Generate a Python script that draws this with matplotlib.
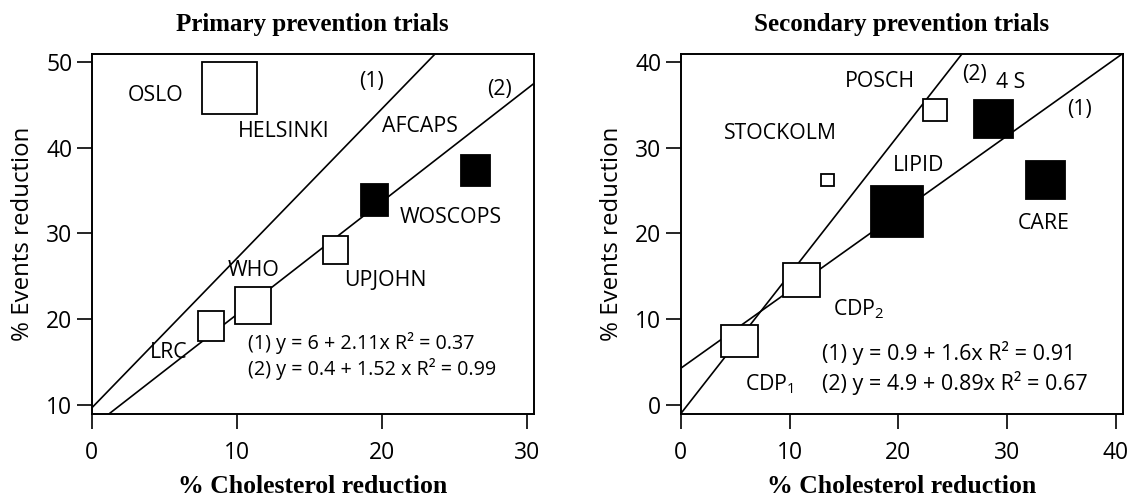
#import libraries
import matplotlib.pyplot as plt
from matplotlib.patches import Rectangle

plt.rcParams['font.family'] = ['Open Sans', 'DejaVu Sans']
plt.rcParams['mathtext.fontset'] = 'custom'
plt.rcParams['mathtext.rm'] = 'Open Sans'

#data
#----------------------------------------
#primary prevention trials
prim_chol = [9.5, 19.5, 26.45, 16.8, 11.1, 8.2]
prim_events = [47.0, 33.9, 37.4, 28.05, 21.6, 19.15]
prim_filled = [False, True, True, False, False, False]
prim_box_w = [55, 27, 29, 25, 36, 26]   #box size in pixels
prim_box_h = [52, 32, 31, 28, 37, 30]
prim_fit_a = [9.65, 7.39]
prim_fit_b = [1.745, 1.316]
prim_eqs = ['(1) y = 6 + 2.11x R\u00b2 = 0.37', '(2) y = 0.4 + 1.52 x R\u00b2 = 0.99']

#secondary prevention trials
sec_chol = [23.4, 28.8, 13.5, 19.9, 33.5, 11.1, 5.4]
sec_events = [34.4, 33.4, 26.25, 22.6, 26.2, 14.6, 7.4]
sec_filled = [False, True, False, True, True, False, False]
sec_box_w = [24, 39, 13.5, 52, 39, 37, 37]
sec_box_h = [22, 38, 12, 51, 38, 34, 32]
sec_fit_a = [4.25, -1.05]
sec_fit_b = [0.904, 1.624]
sec_eqs = ['(1) y = 0.9 + 1.6x R\u00b2 = 0.91', '(2) y = 4.9 + 0.89x R\u00b2 = 0.67']

#label text and where it sits (left edge, middle)
prim_labels = [('OSLO', 2.5, 46.1), ('HELSINKI', 10.1, 41.9), ('(1)', 18.4, 47.7),
               ('(2)', 27.25, 46.75), ('AFCAPS', 20.0, 42.5), ('WOSCOPS', 21.2, 31.9),
               ('WHO', 9.4, 25.7), ('UPJOHN', 17.4, 24.5), ('LRC', 4.0, 16.1)]
sec_labels = [('POSCH', 15.1, 37.7), ('(2)', 25.9, 38.5), ('4 S', 29.0, 37.6),
              ('(1)', 35.5, 34.4), ('STOCKOLM', 4.0, 31.7), ('LIPID', 19.5, 27.9),
              ('CARE', 31.0, 21.2), ('CDP$_\\mathregular{2}$', 14.0, 11.2),
              ('CDP$_\\mathregular{1}$', 5.95, 2.45)]

DPI = 100
fig = plt.figure(figsize=(11.31, 4.98), dpi=DPI)
ax1 = fig.add_axes([0.0811, 0.1693, 0.3908, 0.7217])
ax2 = fig.add_axes([0.6019, 0.1693, 0.3908, 0.7217])

serif = 'Liberation Serif'


def draw_panel(ax, chol, events, filled, bw, bh, fa, fb, eqs, eq_x, eq_y, eq_size,
               labels, xlim, ylim, xticks, yticks, title):
    ax.set_xlim(xlim)
    ax.set_ylim(ylim)
    pos = ax.get_position()
    ax_w = pos.width * fig.get_figwidth() * DPI
    ax_h = pos.height * fig.get_figheight() * DPI
    sx = (xlim[1] - xlim[0]) / ax_w
    sy = (ylim[1] - ylim[0]) / ax_h

    #fit lines
    for a, b in zip(fa, fb):
        ax.axline((0, a), slope=b, color='black', lw=1.2, zorder=1)

    #trial boxes
    for x, y, f, w, h in zip(chol, events, filled, bw, bh):
        wd, hd = w * sx, h * sy
        ax.add_patch(Rectangle((x - wd / 2, y - hd / 2), wd, hd,
                               facecolor='black' if f else 'white',
                               edgecolor='black', lw=1.3, zorder=3))

    for txt, x, y in labels:
        ax.text(x, y, txt, fontsize=15.3, ha='left', va='center', zorder=4)
    for i, e in enumerate(eqs):
        ax.text(eq_x, eq_y[i], e, fontsize=eq_size, ha='left', va='center', zorder=4)

    ax.set_xticks(xticks)
    ax.set_yticks(yticks)
    ax.tick_params(direction='out', length=11, width=1.2, labelsize=16.5)
    ax.tick_params(axis='x', pad=9)
    ax.tick_params(axis='y', pad=3)
    for s in ax.spines.values():
        s.set_linewidth(1.4)
    ax.set_title(title, family=serif, fontweight='bold', fontsize=18, pad=17)
    ax.set_xlabel('% Cholesterol reduction', family=serif, fontweight='bold',
                  fontsize=18.5, labelpad=7)
    ax.set_ylabel('% Events reduction', fontsize=17.3, labelpad=8)


draw_panel(ax1, prim_chol, prim_events, prim_filled, prim_box_w, prim_box_h,
           prim_fit_a, prim_fit_b, prim_eqs, 10.8, [17.2, 14.25], 14.2, prim_labels,
           (0, 30.46), (8.98, 50.9), [0, 10, 20, 30], [10, 20, 30, 40, 50],
           'Primary prevention trials')
draw_panel(ax2, sec_chol, sec_events, sec_filled, sec_box_w, sec_box_h,
           sec_fit_a, sec_fit_b, sec_eqs, 13.0, [6.0, 2.5], 15.5, sec_labels,
           (0, 40.64), (-1.05, 40.9), [0, 10, 20, 30, 40], [0, 10, 20, 30, 40],
           'Secondary prevention trials')

plt.savefig('out.png', dpi=DPI)
